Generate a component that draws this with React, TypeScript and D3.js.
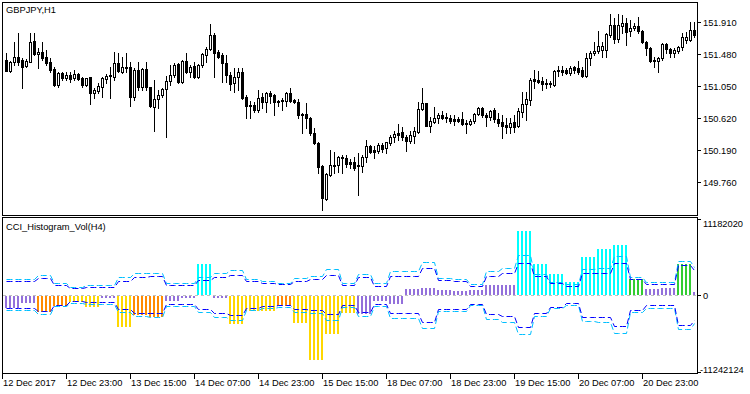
import React from "react";
import * as d3 from "d3";

// GBPJPY H1 candles (prices)
const openP = [
151.40,151.25,151.37,151.44,151.40,151.32,151.37,151.66,151.48,151.51,
151.44,151.37,151.28,151.07,151.23,151.16,151.20,151.16,151.21,151.16,
151.07,151.17,150.96,150.99,151.04,151.15,151.19,151.17,151.36,151.24,
151.31,151.31,150.91,151.27,151.04,151.28,151.04,150.77,150.88,150.93,
151.01,151.12,151.20,151.35,151.11,151.39,151.24,151.32,151.17,151.33,
151.47,151.55,151.74,151.51,151.47,151.36,151.20,151.09,151.17,151.24,
150.91,150.80,150.80,150.73,150.91,150.84,150.96,150.93,150.85,150.85,
150.85,150.96,150.87,150.84,150.68,150.68,150.62,150.42,150.29,149.98,
149.54,149.86,149.98,149.99,150.09,150.09,150.03,150.03,149.98,149.98,
150.10,150.25,150.19,150.18,150.26,150.22,150.29,150.37,150.42,150.44,
150.37,150.32,150.38,150.44,150.74,150.82,150.52,150.57,150.62,150.66,
150.64,150.62,150.61,150.61,150.61,150.56,150.54,150.58,150.68,150.76,
150.66,150.64,150.73,150.61,150.57,150.53,150.50,150.57,150.52,150.70,
150.81,150.87,151.15,151.13,151.12,151.09,151.09,151.07,151.25,151.27,
151.27,151.23,151.31,151.29,151.27,151.19,151.43,151.50,151.52,151.54,
151.54,151.74,151.87,151.68,151.86,151.90,151.79,151.83,151.86,151.79,
151.64,151.56,151.40,151.39,151.43,151.62,151.55,151.50,151.52,151.58,
151.67,151.67,151.80];
const highP = [
151.50,151.39,151.64,151.76,151.43,151.41,151.76,151.76,151.56,151.64,
151.54,151.43,151.31,151.24,151.24,151.24,151.24,151.27,151.23,151.17,
151.16,151.17,151.03,151.09,151.17,151.21,151.31,151.51,151.50,151.44,
151.50,151.37,151.29,151.37,151.29,151.37,151.04,151.13,151.00,151.03,
151.19,151.33,151.36,151.36,151.40,151.50,151.33,151.37,151.35,151.50,
151.58,151.88,151.76,151.54,151.50,151.47,151.24,151.29,151.29,151.29,
150.93,150.85,150.84,151.00,150.96,150.97,150.99,150.95,150.87,150.89,
150.97,151.03,150.88,150.88,150.69,150.82,150.64,150.49,150.30,149.99,
149.89,150.20,150.17,150.11,150.13,150.13,150.07,150.10,150.15,150.13,
150.33,150.26,150.25,150.29,150.29,150.30,150.40,150.45,150.54,150.50,
150.40,150.45,150.50,150.84,151.03,150.82,150.64,150.77,150.69,150.72,
150.69,150.66,150.66,150.64,150.70,150.60,150.61,150.69,150.77,150.77,
150.69,150.73,150.76,150.69,150.66,150.62,150.62,150.66,150.76,150.97,
150.97,151.16,151.27,151.25,151.17,151.15,151.12,151.27,151.32,151.32,
151.29,151.32,151.32,151.39,151.31,151.50,151.52,151.64,151.79,151.64,
151.76,152.02,151.96,152.02,152.00,151.96,151.94,151.90,151.98,151.80,
151.66,151.58,151.44,151.44,151.63,151.63,151.56,151.56,151.59,151.76,
151.78,151.91,151.91];
const lowP = [
151.25,151.24,151.33,151.33,151.03,151.31,151.37,151.47,151.29,151.40,
151.33,151.24,151.05,151.04,151.13,151.13,151.11,151.13,151.13,151.04,
151.05,150.81,150.89,150.96,150.91,151.09,150.89,151.13,151.24,151.23,
151.24,150.78,150.87,151.00,151.00,151.00,150.77,150.45,150.76,150.91,
150.37,151.07,151.17,151.09,151.09,151.23,151.17,151.16,151.16,151.31,
151.37,151.54,151.17,151.43,151.11,151.11,151.00,150.97,151.00,150.88,
150.62,150.62,150.70,150.70,150.76,150.70,150.82,150.66,150.78,150.73,
150.78,150.84,150.82,150.62,150.42,150.49,150.40,150.28,149.89,149.39,
149.53,149.85,149.89,149.90,149.89,149.97,149.95,149.93,149.59,149.90,
150.03,150.15,150.09,150.15,150.17,150.15,150.26,150.30,150.33,150.33,
150.18,150.29,150.29,150.42,150.73,150.52,150.44,150.56,150.56,150.61,
150.57,150.56,150.53,150.57,150.53,150.42,150.53,150.56,150.66,150.64,
150.52,150.60,150.57,150.52,150.36,150.42,150.42,150.44,150.50,150.64,
150.60,150.80,151.03,151.09,151.00,151.03,151.04,151.05,151.19,151.20,
151.21,151.20,151.23,151.21,151.17,151.17,151.33,151.47,151.50,151.44,
151.44,151.71,151.63,151.64,151.76,151.60,151.72,151.80,151.76,151.63,
151.47,151.37,151.31,151.24,151.40,151.50,151.44,151.44,151.50,151.54,
151.63,151.66,151.71];
const closeP = [
151.25,151.37,151.44,151.37,151.31,151.39,151.64,151.48,151.51,151.43,
151.36,151.27,151.07,151.23,151.16,151.20,151.15,151.21,151.15,151.07,
151.16,150.96,151.00,151.05,151.16,151.19,151.20,151.36,151.25,151.31,
151.29,150.91,151.27,151.04,151.28,151.04,150.79,150.88,150.93,151.01,
151.12,151.20,151.33,151.11,151.39,151.24,151.31,151.17,151.33,151.48,
151.55,151.74,151.50,151.44,151.36,151.20,151.08,151.17,151.24,150.89,
150.79,150.79,150.73,150.89,150.84,150.96,150.92,150.84,150.84,150.87,
150.96,150.85,150.84,150.66,150.66,150.62,150.42,150.29,149.97,149.55,
149.87,149.99,149.99,150.10,150.10,150.01,150.01,149.95,149.99,150.10,
150.25,150.17,150.17,150.26,150.21,150.30,150.37,150.41,150.40,150.37,
150.32,150.40,150.45,150.74,150.82,150.52,150.58,150.62,150.66,150.62,
150.62,150.58,150.58,150.58,150.54,150.54,150.58,150.68,150.76,150.66,
150.64,150.72,150.61,150.56,150.52,150.50,150.56,150.50,150.72,150.81,
150.88,151.13,151.12,151.11,151.08,151.08,151.08,151.25,151.27,151.24,
151.23,151.29,151.27,151.24,151.19,151.43,151.50,151.52,151.59,151.59,
151.75,151.87,151.68,151.87,151.90,151.78,151.83,151.86,151.79,151.64,
151.56,151.39,151.39,151.43,151.62,151.55,151.50,151.54,151.58,151.71,
151.71,151.80,151.74];

// CCI_Histogram_Vol(H4): one value per H4 block (4 H1 bars)
const histValues = [
-1817000,-1085000,-2404000,-1466000,-982000,-1671000,-396000,-4602000,-2887000,-3136000,
-835000,-293000,4543000,-352000,-4162000,-2301000,-2301000,-1466000,-4016000,-9380000,
-5569000,-2550000,-2638000,-835000,-1173000,777000,967000,630000,484000,630000,
1363000,1363000,9321000,4441000,2975000,1803000,5467000,6639000,7226000,2345000,
821000,967000,4543000,337000];
const histColors = [
"purple","purple","orange","orange","gold","gold","purple","gold","orange","orange",
"purple","purple","cyan","purple","gold","gold","gold","orange","gold","gold",
"gold","gold","purple","purple","purple","purple","purple","purple","purple","purple",
"purple","purple","cyan","cyan","cyan","cyan","cyan","cyan","cyan","green",
"purple","purple","green","purple"];
const levelInner = [
1949000,1949000,2418000,1466000,953000,1099000,1099000,2052000,2638000,2711000,
1392000,1392000,2154000,2638000,2931000,1949000,1685000,1510000,2052000,2272000,
2829000,1466000,2594000,1319000,2711000,2711000,3957000,2096000,2052000,1348000,
2785000,3151000,4690000,2711000,1759000,1275000,3224000,3224000,4587000,2272000,
1539000,1539000,4397000,3664000];
const levelOuter = [
2301000,2301000,2858000,1685000,1173000,1392000,1392000,2565000,3151000,3224000,
1685000,1685000,2594000,3224000,3664000,2272000,1979000,1759000,2492000,2711000,
3737000,1788000,3078000,1685000,3444000,3444000,4837000,2448000,2345000,1539000,
3518000,3957000,5789000,3078000,1905000,1539000,3811000,3957000,5613000,2536000,
1905000,1905000,4983000,4104000];

const priceTicks = [151.91, 151.48, 151.05, 150.62, 150.19, 149.76];
const indTicks = [11182020, 0, -11242124];
const timeLabels = ["12 Dec 2017","12 Dec 23:00","13 Dec 15:00","14 Dec 07:00","14 Dec 23:00",
  "15 Dec 15:00","18 Dec 07:00","18 Dec 23:00","19 Dec 15:00","20 Dec 07:00","20 Dec 23:00"];

const colorMap: Record<string, string> = {
  purple: "#9370DB", orange: "#FF8C00", gold: "#FFD700", cyan: "#00FFFF", green: "#32CD32",
};

const FONT = "'Liberation Sans', Arial, sans-serif";

export default function App() {
  const W = 750, H = 394;
  const n = openP.length;
  const x = d3.scaleLinear().domain([0, n - 1]).range([6, 6 + 4 * (n - 1)]);
  const yP = d3.scaleLinear().domain([149.76, 151.91]).range([182.46, 22]);
  const yI = d3.scaleLinear().domain([-11242124, 11182020]).range([371.5, 218.5]);
  const idx = d3.range(n);
  const blk = (i: number) => Math.floor(i / 4);

  const lineGen = (sign: number, arr: number[]) =>
    d3.line<number>()
      .x((i) => Math.round(x(i)) + 0.5)
      .y((i) => Math.round(yI(sign * arr[blk(i)])) + 0.5)(idx) || "";

  const zeroY = Math.round(yI(0));

  return (
    <svg width={W} height={H} style={{ position: "absolute", left: 0, top: 0, background: "#fff" }}
      fontFamily={FONT}>
      <rect x={0} y={0} width={W} height={H} fill="#fff" />
      {/* pane frames */}
      <rect x={2.5} y={2.5} width={695} height={213} fill="none" stroke="#000" />
      <rect x={2.5} y={217.5} width={695} height={156} fill="none" stroke="#000" />

      {/* candles */}
      <g>
        {idx.map((i) => {
          const px = Math.round(x(i));
          const o = openP[i], c = closeP[i];
          const top = Math.round(yP(Math.max(o, c)));
          const bot = Math.round(yP(Math.min(o, c)));
          const hi = Math.round(yP(highP[i]));
          const lo = Math.round(yP(lowP[i]));
          const bull = c >= o;
          return (
            <g key={i}>
              <line x1={px + 0.5} x2={px + 0.5} y1={hi} y2={lo + 1} stroke="#000" />
              {bot - top < 1 ? (
                <line x1={px - 1} x2={px + 2} y1={top + 0.5} y2={top + 0.5} stroke="#000" />
              ) : bull ? (
                <rect x={px - 0.5} y={top + 0.5} width={2} height={bot - top} fill="#fff" stroke="#000" />
              ) : (
                <rect x={px - 1} y={top} width={3} height={bot - top + 1} fill="#000" />
              )}
            </g>
          );
        })}
      </g>

      {/* indicator zero line */}
      <line x1={3} x2={697} y1={zeroY + 0.5} y2={zeroY + 0.5} stroke="#C0C0C0" strokeDasharray="3,3" />

      {/* histogram */}
      <g>
        {idx.map((i) => {
          const b = blk(i);
          const v = histValues[b];
          const px = Math.round(x(i));
          const yv = Math.round(yI(v));
          const y0 = v >= 0 ? yv : zeroY + 1;
          const h = v >= 0 ? zeroY - yv : yv - zeroY;
          return <rect key={i} x={px - 1} y={y0} width={2} height={Math.max(1, h)} fill={colorMap[histColors[b]]} />;
        })}
      </g>

      {/* bands */}
      <path d={lineGen(1, levelOuter)} fill="none" stroke="#00BFFF" strokeDasharray="6,3" />
      <path d={lineGen(-1, levelOuter)} fill="none" stroke="#00BFFF" strokeDasharray="6,3" />
      <path d={lineGen(1, levelInner)} fill="none" stroke="#0000FF" strokeDasharray="6,3" />
      <path d={lineGen(-1, levelInner)} fill="none" stroke="#0000FF" strokeDasharray="6,3" />

      {/* titles */}
      <text x={6} y={13} fontSize={9.3} fill="#000">GBPJPY,H1</text>
      <text x={6} y={230} fontSize={9.3} fill="#000">CCI_Histogram_Vol(H4)</text>

      {/* price axis */}
      {priceTicks.map((p) => {
        const yy = Math.round(yP(p));
        return (
          <g key={p}>
            <line x1={697} x2={701} y1={yy + 0.5} y2={yy + 0.5} stroke="#000" />
            <text x={703} y={yy + 3.5} fontSize={9.3} fill="#000">{p.toFixed(3)}</text>
          </g>
        );
      })}
      {indTicks.map((v, k) => {
        const yy = Math.round(yI(v));
        const ty = k === 0 ? yy + 7.5 : k === 2 ? yy + 1 : yy + 3.5;
        return (
          <g key={v}>
            <line x1={697} x2={701} y1={yy + 0.5} y2={yy + 0.5} stroke="#000" />
            <text x={k === 2 ? 700 : 703} y={ty} fontSize={9.3} fill="#000">{String(v)}</text>
          </g>
        );
      })}

      {/* time axis */}
      {timeLabels.map((t, k) => {
        const xx = Math.round(x(16 * k - 1));
        return (
          <g key={t}>
            <line x1={xx + 0.5} x2={xx + 0.5} y1={373} y2={379} stroke="#000" />
            <text x={xx + 1} y={386} fontSize={9.3} fill="#000">{t}</text>
          </g>
        );
      })}
    </svg>
  );
}
